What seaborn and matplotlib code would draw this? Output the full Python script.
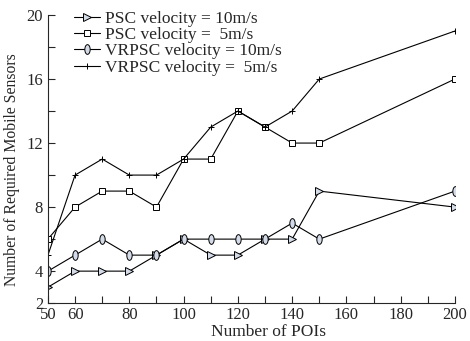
import numpy as np
import pandas as pd
import matplotlib
matplotlib.use("Agg")
import matplotlib.pyplot as plt
from matplotlib.path import Path
from matplotlib.transforms import Affine2D
import seaborn as sns

# data
pois = [50, 60, 70, 80, 90, 100, 110, 120, 130, 140, 150, 200]
psc_10 = [3, 4, 4, 4, 5, 6, 5, 5, 6, 6, 9, 8]
psc_5 = [6, 8, 9, 9, 8, 11, 11, 14, 13, 12, 12, 16]
vrpsc_10 = [4, 5, 6, 5, 5, 6, 6, 6, 6, 7, 6, 9]
vrpsc_5 = [5, 10, 11, 10, 10, 11, 13, 14, 13, 14, 16, 19]

labels = ["PSC velocity = 10m/s", "PSC velocity =  5m/s",
          "VRPSC velocity = 10m/s", "VRPSC velocity =  5m/s"]

sns.set_style("ticks")
plt.rcParams['font.family'] = ['Liberation Serif', 'DejaVu Serif']

# tall ellipse marker like the original
ellipse = Path.unit_circle().transformed(Affine2D().scale(0.55, 1.0))

fig = plt.figure(figsize=(4.7, 3.41), dpi=100)
ax = fig.add_axes([0.102, 0.111, 0.866, 0.845])

fill = '#d4dbe8'
styles = [
    (psc_10, dict(marker='>', markersize=5.5, markerfacecolor=fill)),
    (psc_5, dict(marker='s', markersize=4, markerfacecolor='white')),
    (vrpsc_10, dict(marker=ellipse, markersize=7, markerfacecolor=fill)),
    (vrpsc_5, dict(marker='+', markersize=5)),
]

for (vals, kw), lab in zip(styles, labels):
    sns.lineplot(x=pois, y=vals, ax=ax, color='black', linewidth=0.8,
                 markeredgecolor='black', markeredgewidth=0.7, label=lab, **kw)

ax.set_xlim(50, 200)
ax.set_ylim(2, 20)
ax.set_xticks([50, 60, 80, 100, 120, 140, 160, 180, 200])
ax.set_xticks(np.arange(50, 201, 10), minor=True)
ax.set_yticks([2, 4, 8, 12, 16, 20])
ax.set_yticks([6, 10, 14, 18], minor=True)
ax.tick_params(which='both', direction='in', labelsize=12, width=0.8, length=5)
ax.tick_params(axis='x', pad=3)
sns.despine(ax=ax)
for s in ['left', 'bottom']:
    ax.spines[s].set_linewidth(0.8)

ax.set_xlabel("Number of POIs", fontsize=12.5)
ax.set_ylabel("Number of Required Mobile Sensors", fontsize=11.3)
ax.xaxis.set_label_coords(0.542, -0.071)
ax.yaxis.set_label_coords(-0.068, 0.465)

ax.legend(loc='upper left', bbox_to_anchor=(0.038, 1.05), frameon=False,
          fontsize=12.5, handlelength=1.5, handletextpad=0.3,
          labelspacing=0.0, borderaxespad=0.2)

fig.savefig("out.png", dpi=100)
